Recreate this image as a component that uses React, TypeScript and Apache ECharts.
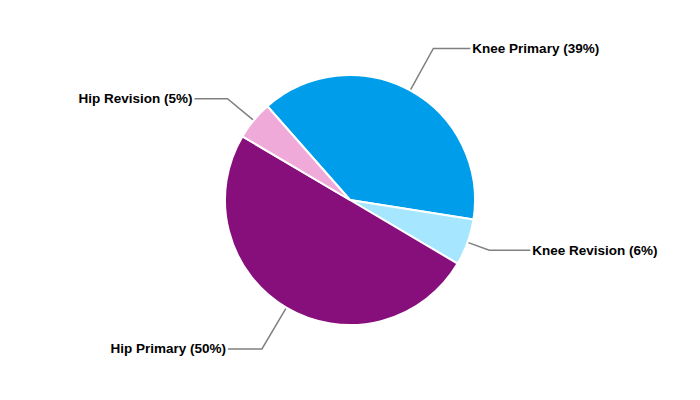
import React, { useEffect, useRef } from "react";
import * as echarts from "echarts";

const categories = ["Knee Primary", "Knee Revision", "Hip Primary", "Hip Revision"];
const values = [39, 6, 50, 5];
const colors = ["#009EEA", "#A6E7FF", "#870F7B", "#F0AADA"];
const lineLengths = [48, 23, 48, 34];
const lineLengths2 = [37, 41, 34, 33];

export default function App() {
  const ref = useRef<HTMLDivElement>(null);
  useEffect(() => {
    document.body.style.margin = "0";
    const chart = echarts.init(ref.current!, null, { renderer: "svg" });
    chart.setOption({
      animation: false,
      backgroundColor: "#ffffff",
      series: [
        {
          type: "pie",
          center: [350, 200],
          radius: 125,
          startAngle: 131.4,
          clockwise: true,
          avoidLabelOverlap: false,
          itemStyle: { borderColor: "#ffffff", borderWidth: 2 },
          label: {
            show: true,
            position: "outside",
            fontFamily: "Liberation Sans, Arial, sans-serif",
            fontWeight: "bold",
            fontSize: 13.5,
            color: "#000000",
            distanceToLabelLine: 2,
            formatter: (p: any) => `${p.name} (${Math.round(p.percent)}%)`,
          },
          labelLine: {
            show: true,
            lineStyle: { color: "#808080", width: 1.5 },
          },
          emphasis: { disabled: true },
          data: categories.map((name, i) => ({
            name,
            value: values[i],
            itemStyle: { color: colors[i] },
            labelLine: { length: lineLengths[i], length2: lineLengths2[i] },
          })),
        },
      ],
    });
    return () => chart.dispose();
  }, []);
  return <div ref={ref} style={{ width: 700, height: 400 }} />;
}
